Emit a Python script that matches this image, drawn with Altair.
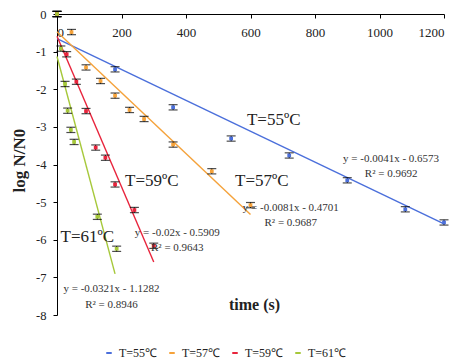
import altair as alt
import pandas as pd

# ---- data ----
series = ["T=55℃", "T=57℃", "T=59℃", "T=61℃"]
colors = ["#4B6FDB", "#F5A23A", "#E8243C", "#A6C83A"]

t55 = [0, 180, 360, 540, 720, 900, 1080, 1200]
v55 = [0, -1.47, -2.48, -3.31, -3.76, -4.42, -5.19, -5.54]

t57 = [0, 45, 90, 135, 180, 225, 270, 360, 480, 600]
v57 = [0, -0.48, -1.42, -1.78, -2.17, -2.55, -2.79, -3.47, -4.18, -5.08]

t59 = [0, 30, 60, 90, 120, 150, 180, 240, 300]
v59 = [0, -1.07, -1.80, -2.58, -3.55, -3.82, -4.53, -5.21, -6.16]

t61 = [0, 12, 25, 33, 43, 53, 125, 185]
v61 = [0, -0.92, -1.86, -2.57, -3.08, -3.40, -5.39, -6.24]

err = 0.07

# linear trend lines (Excel equations)
fit_slope = [-0.0041, -0.0081, -0.02, -0.0321]
fit_icpt = [-0.6573, -0.4701, -0.5909, -1.1282]
fit_end = [1200, 600, 300, 180]

eq_text = ["y = -0.0041x - 0.6573", "y = -0.0081x - 0.4701", "y = -0.02x - 0.5909", "y = -0.0321x - 1.1282"]
r2_text = ["R² = 0.9692", "R² = 0.9687", "R² = 0.9643", "R² = 0.8946"]
eq_t = [1036, 725, 373, 169]
eq_v = [-3.85, -5.16, -5.82, -7.31]
r2_v = [-4.24, -5.56, -6.22, -7.74]

lab_text = ["T=55ºC", "T=57ºC", "T=59ºC", "T=61ºC"]
lab_t = [589, 552, 211, 11]
lab_v = [-2.83, -4.45, -4.44, -5.93]

x_ticks = [0, 200, 400, 600, 800, 1000, 1200]
y_ticks = [-8, -7, -6, -5, -4, -3, -2, -1, 0]

# ---- tables ----
rows = []
for s, ts, vs in zip(series, [t55, t57, t59, t61], [v55, v57, v59, v61]):
    for t, v in zip(ts, vs):
        rows.append({"series": s, "t": t, "v": v, "lo": v - err, "hi": v + err})
pts = pd.DataFrame(rows)

lrows = []
for s, m, b, e in zip(series, fit_slope, fit_icpt, fit_end):
    lrows.append({"series": s, "t": 0, "v": b})
    lrows.append({"series": s, "t": e, "v": m * e + b})
lines = pd.DataFrame(lrows)

ann_eq = pd.DataFrame({"txt": eq_text + r2_text, "t": eq_t + eq_t, "v": eq_v + r2_v})
ann_lab = pd.DataFrame({"txt": lab_text, "t": lab_t, "v": lab_v})

FONT = "Liberation Serif"
W, H = 387, 301

xs = alt.Scale(domain=[0, 1200], nice=False)
ys = alt.Scale(domain=[-8, 0], nice=False)
cs = alt.Scale(domain=series, range=colors)

xax = alt.Axis(values=x_ticks, orient="bottom", offset=-H, tickSize=4, labelPadding=8,
               labelExpr="'' + datum.value", labelFont=FONT, labelFontSize=13, labelOverlap=False,
               title="time (s)", titleFont=FONT, titleFontWeight="bold", titleFontSize=16,
               titleX=197, titleY=290, titleAnchor="middle", titleBaseline="middle",
               grid=False)
yax = alt.Axis(values=y_ticks, tickCount=9, tickSize=4, labelPadding=7, labelExpr="'' + datum.value",
               labelFont=FONT, labelFontSize=12.5, labelOverlap=False,
               title="log N/N0", titleFont=FONT, titleFontWeight="bold", titleFontSize=17,
               titleX=-38, titleY=146, titleAngle=-90, titleAlign="center",
               titleBaseline="middle", grid=False)

X = alt.X("t:Q", scale=xs, axis=xax)
Y = alt.Y("v:Q", scale=ys, axis=yax)
Ylo = alt.Y("lo:Q", scale=ys, axis=yax)
Yhi = alt.Y("hi:Q", scale=ys, axis=yax)

line_layer = alt.Chart(lines).mark_line(strokeWidth=1.4).encode(
    x=X, y=Y,
    color=alt.Color("series:N", scale=cs, sort=series,
                    legend=alt.Legend(orient="none", direction="horizontal", legendX=46, legendY=333,
                                      title=None, symbolType="stroke", symbolSize=30,
                                      symbolStrokeWidth=2, labelFontSize=12, labelFont=FONT,
                                      labelColor="#222222",
                                      columnPadding=7, labelOffset=4, padding=0)),
    detail="series:N",
)

rule_layer = alt.Chart(pts).mark_rule(color="black", strokeWidth=1).encode(
    x=X, y=Ylo, y2="hi:Q")
cap_lo = alt.Chart(pts).mark_tick(color="black", orient="horizontal", size=9, thickness=1.2).encode(
    x=X, y=Ylo)
cap_hi = alt.Chart(pts).mark_tick(color="black", orient="horizontal", size=9, thickness=1.2).encode(
    x=X, y=Yhi)
pt_layer = alt.Chart(pts).mark_point(shape="square", filled=True, size=14, opacity=1).encode(
    x=X, y=Y, color=alt.Color("series:N", scale=cs, legend=None))

eq_layer = alt.Chart(ann_eq).mark_text(font=FONT, fontSize=11, color="#333333", align="center",
                                       baseline="middle").encode(x=X, y=Y, text="txt:N")
lab_layer = alt.Chart(ann_lab).mark_text(font=FONT, fontSize=17, color="#222222", align="left",
                                         baseline="middle").encode(x=X, y=Y, text="txt:N")

chart = alt.layer(line_layer, rule_layer, cap_lo, cap_hi, pt_layer, eq_layer, lab_layer).properties(
    width=W, height=H,
    autosize=alt.AutoSizeParams(type="none"),
    padding={"left": 49, "top": 6, "right": 6, "bottom": 45},
).configure_view(stroke=None).configure_axis(
    domainColor="black", tickColor="black", labelColor="#222222", titleColor="#222222",
    labelFont=FONT, titleFont=FONT,
)

chart.save("out.html", embed_options={"renderer": "svg", "actions": False})
